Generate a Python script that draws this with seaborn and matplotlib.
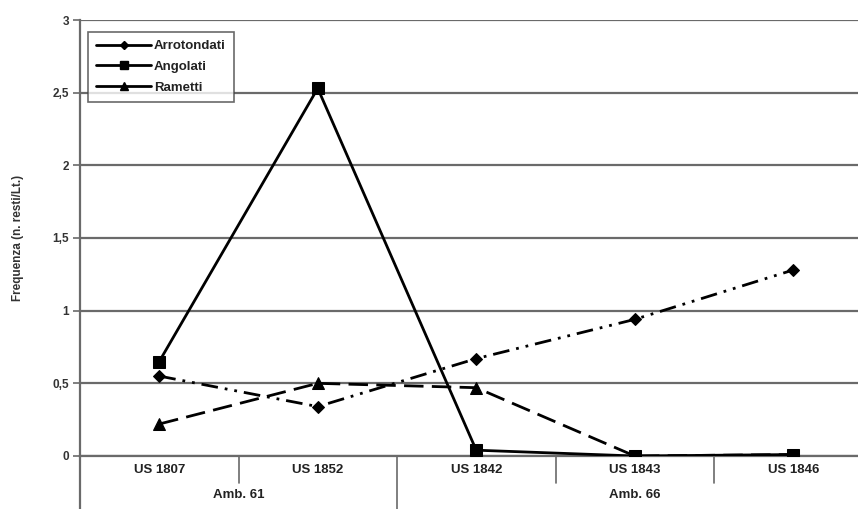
import matplotlib as mpl
import matplotlib.pyplot as plt
from matplotlib.lines import Line2D
import seaborn as sns
import pandas as pd

# values
categorie = ['US 1807', 'US 1852', 'US 1842', 'US 1843', 'US 1846']
ambienti = ['Amb. 61', 'Amb. 66']
ambienti_n = [2, 3]  # how many US per ambiente
arrotondati = [0.55, 0.34, 0.67, 0.94, 1.28]
angolati = [0.65, 2.53, 0.04, 0.0, 0.01]
rametti = [0.22, 0.50, 0.47, 0.0, 0.01]
serie = ['Arrotondati', 'Angolati', 'Rametti']
y_ticks = [0, 0.5, 1, 1.5, 2, 2.5, 3]

sns.set_style('white')
mpl.rcParams['font.family'] = ['Liberation Sans', 'DejaVu Sans']

data = pd.DataFrame({
    'US': categorie * 3,
    'valore': arrotondati + angolati + rametti,
    'serie': [s for s in serie for _ in categorie],
})

marks = {'Arrotondati': 'D', 'Angolati': 's', 'Rametti': '^'}
msize = {'Arrotondati': 6.5, 'Angolati': 9, 'Rametti': 8}
dashes = {'Arrotondati': (6, 2.5, 1, 2.5, 1, 2.5), 'Angolati': '', 'Rametti': (7, 3)}

fig = plt.figure(figsize=(8.58, 5.09), dpi=100)
ax = fig.add_axes([80 / 858, 53 / 509, 5 * 158.5 / 858, 436 / 509])

grid_col = '#6a6a6a'
for v in y_ticks:
    ax.axhline(v, color=grid_col, lw=1.6, zorder=0)

for s in serie:
    sub = data[data['serie'] == s]
    sns.lineplot(data=sub, x='US', y='valore', ax=ax, color='black', lw=2,
                 marker=marks[s], markersize=msize[s], markeredgecolor='black',
                 sort=False, legend=False, zorder=3)
    if dashes[s]:
        ax.lines[-1].set_dashes(dashes[s])

ax.set_xlim(-0.5, 4.5)
ax.set_ylim(0, 3)
ax.set_yticks(y_ticks)
ax.set_yticklabels([('%g' % v).replace('.', ',') for v in y_ticks],
                   fontsize=8.5, fontweight='bold', color='#333333')
ax.tick_params(axis='y', which='both', left=True, length=5, width=1.2,
               color=grid_col, pad=3)
ax.set_xticks(range(len(categorie)))
ax.set_xticklabels(categorie, fontsize=9.5, fontweight='bold', color='#222222')
ax.tick_params(axis='x', length=0, pad=6)
ax.set_xlabel('')
ax.set_ylabel('Frequenza (n. resti/Lt.)', fontsize=8.5, fontweight='bold',
              color='#333333', labelpad=20)

for side in ['top', 'right']:
    ax.spines[side].set_visible(False)
ax.spines['left'].set_color(grid_col)
ax.spines['left'].set_linewidth(1.6)
ax.spines['bottom'].set_color(grid_col)
ax.spines['bottom'].set_linewidth(1.6)

# category table under the axis
tr = ax.get_xaxis_transform()
ax.plot([-0.5, -0.5], [0, -0.125], transform=tr, color=grid_col, lw=1.6, clip_on=False)
start = 0
for i, n in enumerate(ambienti_n):
    for k in range(1, n):
        xs = start + k - 0.5
        ax.plot([xs, xs], [0, -0.062], transform=tr, color=grid_col, lw=1.2, clip_on=False)
    ax.text(start + (n - 1) / 2, -0.09, ambienti[i], transform=tr, ha='center',
            va='center', fontsize=9.5, fontweight='bold', color='#222222')
    start += n
    if i < len(ambienti_n) - 1:
        ax.plot([start - 0.5, start - 0.5], [0, -0.125], transform=tr,
                color=grid_col, lw=1.2, clip_on=False)

handles = [Line2D([], [], color='black', lw=2, marker=marks[s],
                  markersize=msize[s] * 0.65) for s in serie]
leg = ax.legend(handles, serie, loc='upper left',
                bbox_to_anchor=(88 / 858, 1 - 32 / 509), bbox_transform=fig.transFigure,
                borderaxespad=0, frameon=True, fancybox=False, handlelength=4.2,
                handletextpad=0.2, labelspacing=0.65, borderpad=0.6,
                prop={'size': 9.5, 'weight': 'bold'})
leg.get_frame().set_edgecolor('#444444')
leg.get_frame().set_linewidth(1.2)
for t in leg.get_texts():
    t.set_color('#222222')

fig.savefig('out.png', dpi=100)
